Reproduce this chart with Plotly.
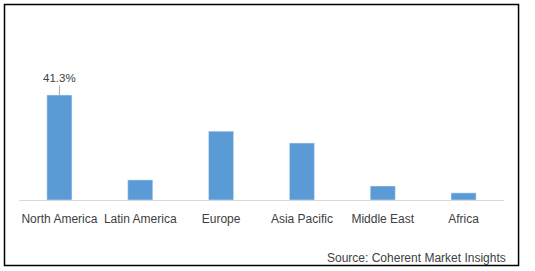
import plotly.graph_objects as go

categories = ["North America", "Latin America", "Europe", "Asia Pacific", "Middle East", "Africa"]
values = [41.3, 7.9, 27.1, 22.4, 5.5, 2.8]
label_text = "41.3%"
source_text = "Source: Coherent Market Insights"

FONT = "Liberation Sans"

fig = go.Figure(go.Bar(x=categories, y=values, marker_color="#5B9BD5", width=0.31))

fig.add_annotation(x=categories[0], y=values[0], text=label_text, showarrow=True,
                   arrowhead=0, arrowwidth=1, arrowcolor="#A6A6A6", ax=0, ay=-17,
                   font=dict(family=FONT, size=11.5, color="#404040"))

fig.add_annotation(xref="paper", yref="paper", x=1.008, y=-0.34, xanchor="right", yanchor="middle",
                   text=source_text, showarrow=False,
                   font=dict(family=FONT, size=12, color="#404040"))

fig.add_shape(type="rect", xref="paper", yref="paper", x0=-0.0299, x1=1.03, y0=-0.385, y1=1.15,
              line=dict(color="black", width=1.5), fillcolor="rgba(0,0,0,0)", layer="above")

fig.update_layout(
    width=535, height=271,
    margin=dict(l=19, r=31, t=30, b=71),
    paper_bgcolor="white", plot_bgcolor="white",
    showlegend=False,
    font=dict(family=FONT, size=12, color="#404040"),
    bargap=0.69,
)
fig.update_xaxes(showline=True, linecolor="#D9D9D9", linewidth=1, ticks="", showgrid=False,
                 ticklabelstandoff=8,
                 tickfont=dict(family=FONT, size=12, color="#404040"))
fig.update_yaxes(range=[0, 66.9], visible=False, showgrid=False)

fig.write_html("out.html")
